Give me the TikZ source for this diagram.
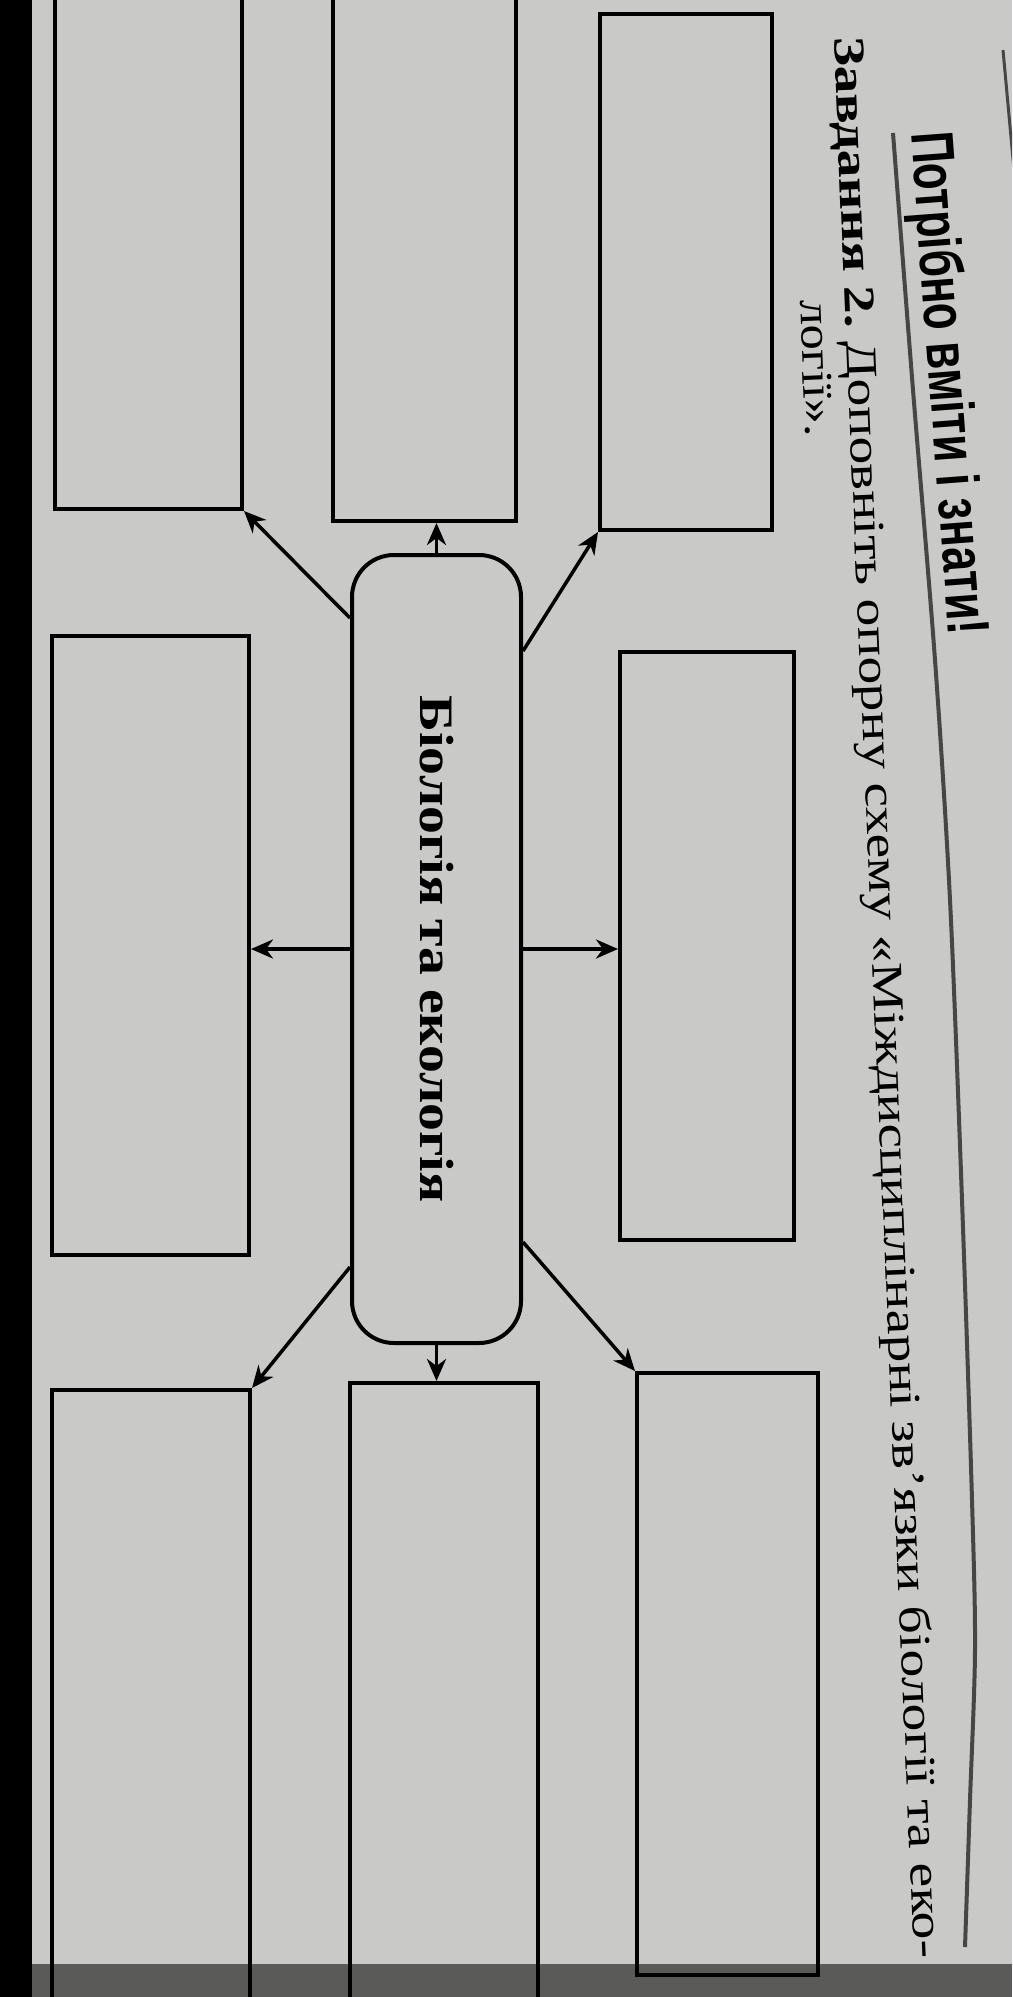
\documentclass[tikz,border=0pt]{standalone}
\usepackage{fontspec}
\usepackage{graphicx}
\setmainfont{Liberation Serif}
\newfontfamily\headfont{Liberation Sans}
\usetikzlibrary{arrows.meta,positioning}
\definecolor{PageGray}{RGB}{201,201,199}
\definecolor{RuleGray}{RGB}{70,70,70}
\tikzset{
  ebox/.style={draw=black,rectangle,inner sep=0pt,line width=4pt},
  cbox/.style={draw=black,rectangle,rounded corners=42pt,inner sep=0pt,
               line width=4pt,font=\fontsize{48}{50}\selectfont\bfseries},
  arr/.style={-{Stealth[length=22pt,width=19pt,inset=7pt]},line width=3.5pt},
  ttext/.style={anchor=base west,inner sep=0pt,font=\fontsize{44}{44}\selectfont},
}

\begin{document}
\begin{tikzpicture}[x=1pt,y=-1pt]
  \clip (0,0) rectangle (1012,1997);
  \fill[PageGray] (0,0) rectangle (1012,1997);

  % heading and task text (page is turned)
  \node[anchor=base west,inner sep=0pt,rotate=-85.7,
        font=\headfont\fontsize{38}{38}\selectfont\bfseries] (title) at (911,133)
        {\resizebox{504pt}{44pt}{Потрібно вміти і знати!}};
  \draw[RuleGray,line width=4pt] plot[smooth] coordinates
        {(893,133) (913,390) (935,660) (950,900) (962,1200) (972,1500) (975,1650) (970,1800) (965,1947)};
  \draw[RuleGray,line width=3pt] (1003,50) -- (1014,170);
  \node[ttext,rotate=-87.6] (task) at (834,37)
        {\resizebox{1923pt}{\height}{\textbf{Завдання 2.}\ Доповніть опорну схему «Міждисциплінарні зв’язки біології та еко-}};
  \node[ttext,rotate=-87.6] (task2) at (800,300)
        {\resizebox{137pt}{\height}{логії».}};

  % empty boxes round the centre
  \node[ebox, minimum width=187pt, minimum height=529pt] (tl) at (148.5,244.5) {};
  \node[ebox, minimum width=183pt, minimum height=541pt] (tm) at (424.5,250.5) {};
  \node[ebox, minimum width=172pt, minimum height=516pt] (tr) at (686,272) {};
  \node[ebox, minimum width=197pt, minimum height=619pt] (ml) at (150.5,945.5) {};
  \node[ebox, minimum width=174pt, minimum height=588pt] (mr) at (707,946) {};
  \node[ebox, minimum width=198pt, minimum height=640pt] (bl) at (151,1710) {};
  \node[ebox, minimum width=188pt, minimum height=647pt] (bm) at (444,1706.5) {};
  \node[ebox, minimum width=181pt, minimum height=602pt] (br) at (727.5,1674) {};

  \node[cbox, minimum width=169pt, minimum height=788pt] (bio) at (436.5,949)
        {\rotatebox{-90}{\resizebox{507pt}{\height}{Біологія та екологія}}};

  \draw[arr] (bio.north) -- (bio.north |- tm.south);
  \draw[arr] ([yshift=-65pt]bio.north west) -- (tl.south east);
  \draw[arr] ([yshift=-98pt]bio.north east) -- (tr.south west);
  \draw[arr] (bio.west) -- (bio.west -| ml.east);
  \draw[arr] (bio.east) -- (bio.east -| mr.west);
  \draw[arr] ([yshift=78pt]bio.south west) -- (bl.north east);
  \draw[arr] ([yshift=103pt]bio.south east) -- (br.north west);
  \draw[arr] (bio.south) -- (bio.south |- bm.north);

  % photo edges
  \fill[black] (0,0) rectangle (32,1997);
  \fill[black,opacity=0.55] (0,1964) rectangle (1012,1997);
\end{tikzpicture}
\end{document}
